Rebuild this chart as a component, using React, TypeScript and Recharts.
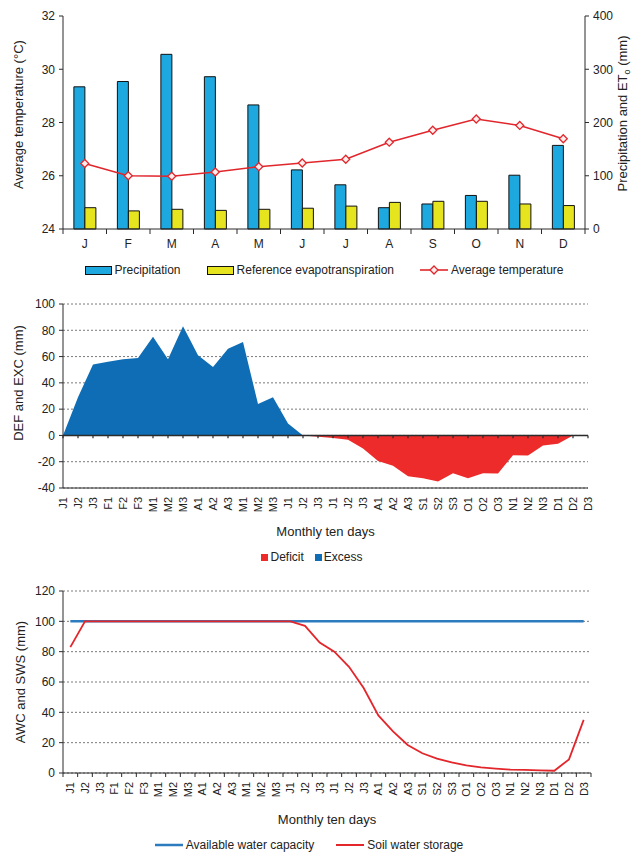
import React from 'react';
import {
  ComposedChart, AreaChart, LineChart,
  Bar, Line, Area, XAxis, YAxis, CartesianGrid, Legend, ReferenceLine,
} from 'recharts';

const FONT = '"Liberation Sans", Arial, Helvetica, sans-serif';
const AXIS = '#2b2b2b';
const TEXT = '#222';
const GRID = '#7a7a7a';
const W = 634;

// A: monthly climate
const months = ['J', 'F', 'M', 'A', 'M', 'J', 'J', 'A', 'S', 'O', 'N', 'D'];
const precipitation = [267, 277, 328, 286, 233, 111, 83, 40, 47, 63, 101, 157];
const referenceEt = [40, 34, 37, 35, 37, 39, 43, 50, 52, 52, 47, 44];
const avgTemperature = [26.46, 26.0, 25.98, 26.14, 26.34, 26.48, 26.62, 27.26, 27.71, 28.13, 27.89, 27.39];
const tempTicks = [24, 26, 28, 30, 32];
const mmTicks = [0, 100, 200, 300, 400];

// B and C: ten-day water balance
const tenDays = [
  'J1', 'J2', 'J3', 'F1', 'F2', 'F3', 'M1', 'M2', 'M3', 'A1', 'A2', 'A3',
  'M1', 'M2', 'M3', 'J1', 'J2', 'J3', 'J1', 'J2', 'J3', 'A1', 'A2', 'A3',
  'S1', 'S2', 'S3', 'O1', 'O2', 'O3', 'N1', 'N2', 'N3', 'D1', 'D2', 'D3',
];
const excess = [
  0, 29, 54, 56, 58, 59, 75, 58, 83, 61, 52, 66,
  71, 24, 29, 9, 0, 0, 0, 0, 0, 0, 0, 0,
  0, 0, 0, 0, 0, 0, 0, 0, 0, 0, 0, 0,
];
const deficit = [
  0, 0, 0, 0, 0, 0, 0, 0, 0, 0, 0, 0,
  0, 0, 0, 0, 0, -1, -2, -3.3, -10, -19.5, -23, -31,
  -32.5, -35, -28.7, -32.5, -28.7, -29, -15, -15.2, -7.6, -6.3, 0, 0,
];
const waterCapacity = [
  100, 100, 100, 100, 100, 100, 100, 100, 100, 100, 100, 100,
  100, 100, 100, 100, 100, 100, 100, 100, 100, 100, 100, 100,
  100, 100, 100, 100, 100, 100, 100, 100, 100, 100, 100, 100,
];
const soilStorage = [
  83, 100, 100, 100, 100, 100, 100, 100, 100, 100, 100, 100,
  100, 100, 100, 100, 97, 86, 80, 70, 56, 38, 27.5, 18.5,
  13, 9.5, 7, 5, 3.7, 2.9, 2.2, 2, 1.7, 1.5, 9, 35,
];
const balanceTicks = [-40, -20, 0, 20, 40, 60, 80, 100];
const storageTicks = [0, 20, 40, 60, 80, 100, 120];

const climateData = months.map((_, i) => ({
  slot: i,
  precipitation: precipitation[i],
  eto: referenceEt[i],
  temperature: avgTemperature[i],
}));
const balanceData = tenDays.map((_, i) => ({ slot: i, excess: excess[i], deficit: deficit[i] }));
const storageData = tenDays.map((_, i) => ({ slot: i, awc: waterCapacity[i], sws: soilStorage[i] }));

const COLORS = {
  precipitation: '#1ea8e0',
  eto: '#e6e41e',
  temperature: '#e1262c',
  excess: '#0e6db4',
  deficit: '#ee2b2b',
  awc: '#2c7bbf',
  sws: '#e3262b',
};

// panel frames (px)
const PA = { top: 0, height: 285, left: 63, right: 49 };
const PB = { top: 290, height: 285, left: 63, right: 46 };
const PC = { top: 575, height: 277, left: 63, right: 43 };

const monthBand = (W - PA.left - PA.right) / months.length;
const storageBand = (W - PC.left - PC.right) / tenDays.length;

const tickStyle = { fontSize: 12, fill: TEXT, fontFamily: FONT };

function MonthTick({ x, y, payload, index }: any) {
  const half = monthBand / 2;
  return (
    <g>
      <line x1={x - half} x2={x - half} y1={y} y2={y + 5} stroke={AXIS} />
      {index === months.length - 1 && <line x1={x + half} x2={x + half} y1={y} y2={y + 5} stroke={AXIS} />}
      <text x={x} y={y + 19} textAnchor="middle" {...tickStyle}>{months[payload.value]}</text>
    </g>
  );
}

function RotatedLabel({ x, y, text }: { x: number; y: number; text: string }) {
  return (
    <text
      x={x}
      y={y}
      transform={`rotate(-90 ${x} ${y})`}
      textAnchor="end"
      dy="0.35em"
      fontSize={11}
      fill={TEXT}
      fontFamily={FONT}
    >
      {text}
    </text>
  );
}

function BalanceTick({ x, y, payload }: any) {
  return <RotatedLabel x={x} y={y + 9} text={tenDays[payload.value]} />;
}

function StorageTick({ x, y, payload, index }: any) {
  const half = storageBand / 2;
  return (
    <g>
      <line x1={x - half} x2={x - half} y1={y} y2={y + 4} stroke={AXIS} />
      {index === tenDays.length - 1 && <line x1={x + half} x2={x + half} y1={y} y2={y + 4} stroke={AXIS} />}
      <RotatedLabel x={x} y={y + 9} text={tenDays[payload.value]} />
    </g>
  );
}

function Diamond({ cx, cy }: any) {
  if (cx == null || cy == null) return null;
  const r = 4;
  return (
    <path
      d={`M${cx},${cy - r}L${cx + r},${cy}L${cx},${cy + r}L${cx - r},${cy}Z`}
      fill="#fdeeee"
      stroke={COLORS.temperature}
      strokeWidth={1.3}
    />
  );
}

// vertical axis title, rotated, centred on the plot with an optional shift
const axisTitle = (content: React.ReactNode, x: number, shift = 0) => (props: any) => {
  const vb = props.viewBox || { y: 0, height: 0 };
  const cy = vb.y + vb.height / 2 + shift;
  return (
    <text
      x={x}
      y={cy}
      transform={`rotate(-90 ${x} ${cy})`}
      textAnchor="middle"
      dy="0.35em"
      fontSize={13}
      fill={TEXT}
      fontFamily={FONT}
    >
      {content}
    </text>
  );
};

const panelLetter = (letter: string, fromRight: number, fromTop: number) => (props: any) => {
  const vb = props.viewBox || { x: 0, y: 0, width: 0 };
  return (
    <text
      x={vb.x + vb.width - fromRight}
      y={vb.y + fromTop}
      textAnchor="middle"
      dy="0.35em"
      fontSize={13}
      fill={TEXT}
      fontFamily={FONT}
    >
      {letter}
    </text>
  );
};

const legendText: React.CSSProperties = { fontSize: 12, color: TEXT, fontFamily: FONT, whiteSpace: 'nowrap' };

function BoxSwatch({ color }: { color: string }) {
  return <span style={{ display: 'inline-block', width: 25, height: 7, background: color, border: '1px solid #111', marginRight: 3 }} />;
}

function LineSwatch({ color, width = 2.5, diamond = false }: { color: string; width?: number; diamond?: boolean }) {
  return (
    <svg width={28} height={10} style={{ marginRight: 3 }}>
      <line x1={0} x2={28} y1={5} y2={5} stroke={color} strokeWidth={width} />
      {diamond && <path d="M14,1L18,5L14,9L10,5Z" fill="#fdeeee" stroke={color} strokeWidth={1.3} />}
    </svg>
  );
}

function SquareSwatch({ color }: { color: string }) {
  return <span style={{ display: 'inline-block', width: 7, height: 7, background: color, marginRight: 2 }} />;
}

function ClimateLegend() {
  return (
    <div style={{ height: 22, display: 'flex', alignItems: 'center', justifyContent: 'center', gap: 26, paddingLeft: 14 }}>
      <span style={{ display: 'flex', alignItems: 'center' }}><BoxSwatch color={COLORS.precipitation} /><span style={legendText}>Precipitation</span></span>
      <span style={{ display: 'flex', alignItems: 'center' }}><BoxSwatch color={COLORS.eto} /><span style={legendText}>Reference evapotranspiration</span></span>
      <span style={{ display: 'flex', alignItems: 'center' }}><LineSwatch color={COLORS.temperature} width={1.6} diamond /><span style={legendText}>Average temperature</span></span>
    </div>
  );
}

function BalanceLegend() {
  return (
    <div style={{ height: 20, display: 'flex', alignItems: 'center', justifyContent: 'center', gap: 11, paddingRight: 10 }}>
      <span style={{ display: 'flex', alignItems: 'center' }}><SquareSwatch color={COLORS.deficit} /><span style={legendText}>Deficit</span></span>
      <span style={{ display: 'flex', alignItems: 'center' }}><SquareSwatch color={COLORS.excess} /><span style={legendText}>Excess</span></span>
    </div>
  );
}

function StorageLegend() {
  return (
    <div style={{ height: 14, display: 'flex', alignItems: 'center', justifyContent: 'center', gap: 22, paddingRight: 16 }}>
      <span style={{ display: 'flex', alignItems: 'center' }}><LineSwatch color={COLORS.awc} /><span style={legendText}>Available water capacity</span></span>
      <span style={{ display: 'flex', alignItems: 'center' }}><LineSwatch color={COLORS.sws} width={2} /><span style={legendText}>Soil water storage</span></span>
    </div>
  );
}

function ClimateChart() {
  return (
    <ComposedChart
      width={W}
      height={PA.height}
      data={climateData}
      margin={{ top: 16, right: 0, bottom: 4, left: 0 }}
      barCategoryGap="25%"
      barGap={0}
      style={{ fontFamily: FONT }}
    >
      <XAxis
        dataKey="slot"
        type="category"
        interval={0}
        height={30}
        tickSize={0}
        tickMargin={0}
        tickLine={false}
        axisLine={{ stroke: AXIS }}
        tick={<MonthTick />}
      />
      <XAxis xAxisId="frame" orientation="top" height={0} tick={false} tickLine={false} axisLine={{ stroke: AXIS }} label={panelLetter('A', 14, 12)} />
      <YAxis
        yAxisId="temp"
        domain={[24, 32]}
        ticks={tempTicks}
        width={PA.left}
        tickSize={4}
        tickMargin={4}
        tick={tickStyle}
        tickLine={{ stroke: AXIS }}
        axisLine={{ stroke: AXIS }}
        label={axisTitle('Average temperature (°C)', 18, -8)}
      />
      <YAxis
        yAxisId="mm"
        orientation="right"
        domain={[0, 400]}
        ticks={mmTicks}
        width={PA.right}
        tickSize={4}
        tickMargin={4}
        tick={tickStyle}
        tickLine={{ stroke: AXIS }}
        axisLine={{ stroke: AXIS }}
        label={axisTitle(
          <>
            Precipitation and ET<tspan fontSize={9} dy={3}>o</tspan><tspan dy={-3}> (mm)</tspan>
          </>,
          622,
          -9,
        )}
      />
      <Bar yAxisId="mm" dataKey="precipitation" name="Precipitation" fill={COLORS.precipitation} stroke="#111" strokeWidth={1} isAnimationActive={false} />
      <Bar yAxisId="mm" dataKey="eto" name="Reference evapotranspiration" fill={COLORS.eto} stroke="#111" strokeWidth={1} isAnimationActive={false} />
      <Line
        yAxisId="temp"
        dataKey="temperature"
        name="Average temperature"
        type="linear"
        stroke={COLORS.temperature}
        strokeWidth={1.6}
        dot={(p: any) => <Diamond key={p.index} {...p} />}
        isAnimationActive={false}
      />
      <Legend verticalAlign="bottom" wrapperStyle={{ left: 0, width: W }} content={<ClimateLegend />} />
    </ComposedChart>
  );
}

function BalanceChart() {
  return (
    <AreaChart
      width={W}
      height={PB.height}
      data={balanceData}
      margin={{ top: 14, right: PB.right, bottom: 8, left: 0 }}
      style={{ fontFamily: FONT }}
    >
      <CartesianGrid vertical={false} stroke={GRID} strokeDasharray="2 2" />
      <XAxis
        dataKey="slot"
        type="category"
        interval={0}
        height={59}
        tickSize={0}
        tickMargin={0}
        tickLine={false}
        axisLine={{ stroke: AXIS }}
        tick={<BalanceTick />}
        label={{ value: 'Monthly ten days', position: 'insideBottom', offset: 11, fontSize: 13, fill: TEXT, fontFamily: FONT }}
      />
      <XAxis xAxisId="frame" orientation="top" height={0} tick={false} tickLine={false} axisLine={{ stroke: AXIS }} label={panelLetter('B', 8.5, 10)} />
      <YAxis
        domain={[-40, 100]}
        ticks={balanceTicks}
        width={PB.left}
        tickSize={4}
        tickMargin={4}
        tick={tickStyle}
        tickLine={{ stroke: AXIS }}
        axisLine={{ stroke: AXIS }}
        label={axisTitle('DEF and EXC (mm)', 18, -13)}
      />
      <YAxis yAxisId="frame" orientation="right" width={0} domain={[0, 1]} tick={false} tickLine={false} axisLine={{ stroke: AXIS }} />
      <Area dataKey="excess" name="Excess" type="linear" baseValue={0} fill={COLORS.excess} fillOpacity={1} stroke="none" isAnimationActive={false} />
      <Area dataKey="deficit" name="Deficit" type="linear" baseValue={0} fill={COLORS.deficit} fillOpacity={1} stroke="none" isAnimationActive={false} />
      <ReferenceLine y={0} stroke={AXIS} strokeWidth={1.5} />
      {balanceData.map((d) => (
        <ReferenceLine
          key={d.slot}
          segment={[{ x: d.slot, y: 0 }, { x: d.slot, y: -2.2 }]}
          stroke={AXIS}
          strokeWidth={1.2}
        />
      ))}
      <Legend verticalAlign="bottom" wrapperStyle={{ left: 0, width: W }} content={<BalanceLegend />} />
    </AreaChart>
  );
}

function StorageChart() {
  return (
    <LineChart
      width={W}
      height={PC.height}
      data={storageData}
      margin={{ top: 16, right: PC.right, bottom: 0, left: 0 }}
      style={{ fontFamily: FONT }}
    >
      <CartesianGrid vertical={false} stroke={GRID} strokeDasharray="2 2" />
      <XAxis
        dataKey="slot"
        type="category"
        interval={0}
        height={65}
        padding={{ left: storageBand / 2, right: storageBand / 2 }}
        tickSize={0}
        tickMargin={0}
        tickLine={false}
        axisLine={{ stroke: AXIS }}
        tick={<StorageTick />}
        label={{ value: 'Monthly ten days', position: 'insideBottom', offset: 14, fontSize: 13, fill: TEXT, fontFamily: FONT }}
      />
      <XAxis xAxisId="frame" orientation="top" height={0} tick={false} tickLine={false} axisLine={{ stroke: AXIS }} label={panelLetter('C', 10, 10)} />
      <YAxis
        domain={[0, 120]}
        ticks={storageTicks}
        width={PC.left}
        tickSize={4}
        tickMargin={4}
        tick={tickStyle}
        tickLine={{ stroke: AXIS }}
        axisLine={{ stroke: AXIS }}
        label={axisTitle('AWC and SWS (mm)', 20, 0)}
      />
      <YAxis yAxisId="frame" orientation="right" width={0} domain={[0, 1]} tick={false} tickLine={false} axisLine={{ stroke: AXIS }} />
      <Line dataKey="awc" name="Available water capacity" type="linear" stroke={COLORS.awc} strokeWidth={2.5} dot={false} isAnimationActive={false} />
      <Line dataKey="sws" name="Soil water storage" type="linear" stroke={COLORS.sws} strokeWidth={1.8} dot={false} isAnimationActive={false} />
      <Legend verticalAlign="bottom" wrapperStyle={{ left: 0, width: W }} content={<StorageLegend />} />
    </LineChart>
  );
}

export default function App() {
  return (
    <div style={{ position: 'absolute', left: 0, top: 0, width: W, height: 852, background: '#fff', fontFamily: FONT }}>
      <div style={{ position: 'absolute', left: 0, top: PA.top }}><ClimateChart /></div>
      <div style={{ position: 'absolute', left: 0, top: PB.top }}><BalanceChart /></div>
      <div style={{ position: 'absolute', left: 0, top: PC.top }}><StorageChart /></div>
    </div>
  );
}
